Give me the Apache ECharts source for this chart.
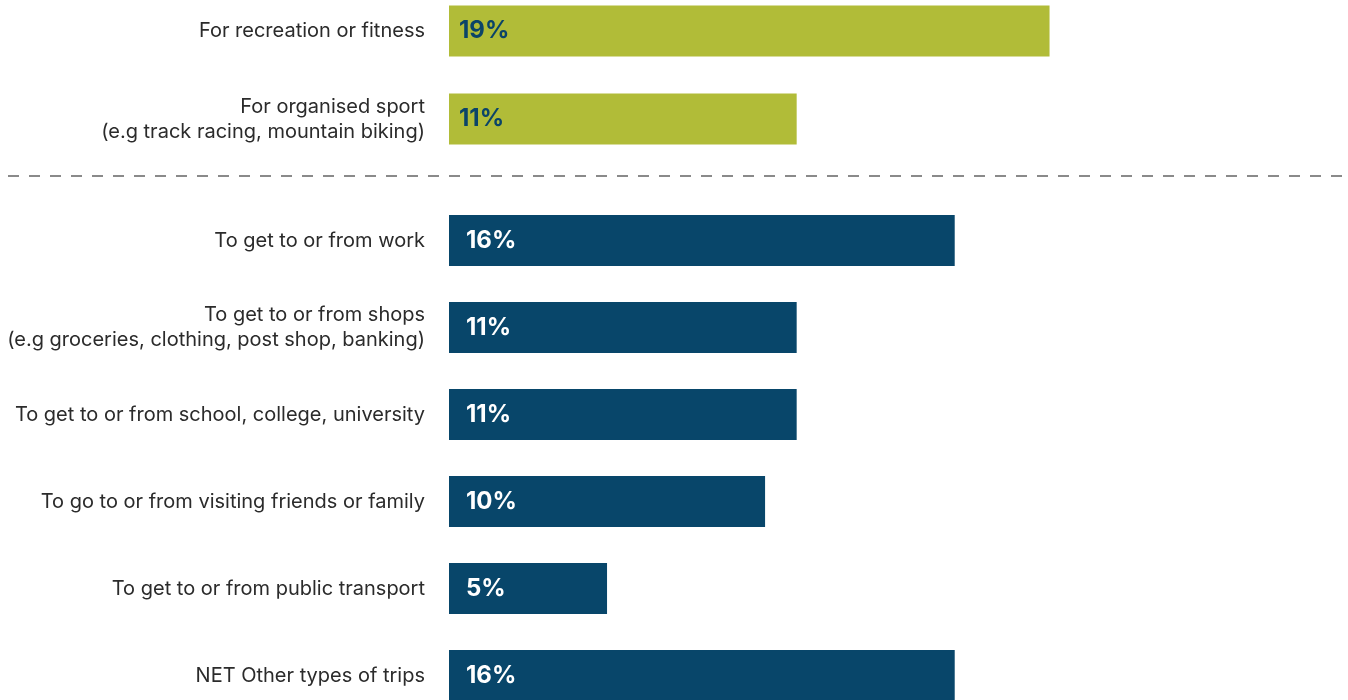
<!DOCTYPE html>
<html>
<head>
<meta charset="utf-8">
<script src="https://cdn.jsdelivr.net/npm/echarts@6/dist/echarts.min.js"></script>
<style>
  html, body { margin: 0; padding: 0; background: #ffffff; }
  #chart { width: 1348px; height: 700px; }
</style>
</head>
<body>
<div id="chart"></div>
<script>
// Reasons for riding: leisure group (top) and trip-purpose group (bottom)
const leisureCategories = [
  'For recreation or fitness',
  'For organised sport\n(e.g track racing, mountain biking)'
];
const leisureValues = [19, 11];

const tripCategories = [
  'To get to or from work',
  'To get to or from shops\n(e.g groceries, clothing, post shop, banking)',
  'To get to or from school, college, university',
  'To go to or from visiting friends or family',
  'To get to or from public transport',
  'NET Other types of trips'
];
const tripValues = [16, 11, 11, 10, 5, 16];

const GREEN = '#b1bc38';
const BLUE = '#08466a';
const FONT = 'Inter, "Liberation Sans", sans-serif';

const chart = echarts.init(document.getElementById('chart'), null, { renderer: 'canvas' });

const xMax = 28;
const gridLeft = 449;
const gridWidth = 885;

function valueAxis(gridIndex) {
  return {
    type: 'value', gridIndex, min: 0, max: xMax,
    show: false, splitLine: { show: false }
  };
}
function catAxis(gridIndex, data) {
  return {
    type: 'category', gridIndex, data, inverse: true,
    axisLine: { show: false }, axisTick: { show: false }, splitLine: { show: false },
    axisLabel: {
      margin: 24, color: '#2b2b2b', fontFamily: FONT, fontSize: 20,
      lineHeight: 25, align: 'right'
    }
  };
}
function barSeries(idx, data, color, labelColor, offsetX) {
  return {
    type: 'bar', xAxisIndex: idx, yAxisIndex: idx, data,
    barWidth: 51, itemStyle: { color },
    silent: true,
    label: {
      show: true, position: 'insideLeft', distance: offsetX,
      formatter: p => p.value + '%',
      color: labelColor, fontFamily: FONT, fontWeight: 'bold', fontSize: 24
    }
  };
}

chart.setOption({
  animation: false,
  backgroundColor: '#ffffff',
  grid: [
    { left: gridLeft, width: gridWidth, top: -13, height: 176, outerBoundsMode: 'none', containLabel: false },
    { left: gridLeft, width: gridWidth, top: 197, height: 522, outerBoundsMode: 'none', containLabel: false }
  ],
  xAxis: [valueAxis(0), valueAxis(1)],
  yAxis: [catAxis(0, leisureCategories), catAxis(1, tripCategories)],
  series: [
    barSeries(0, leisureValues, GREEN, '#0b4468', 10),
    barSeries(1, tripValues, BLUE, '#ffffff', 17)
  ],
  graphic: [{
    type: 'line', silent: true,
    shape: { x1: 8, y1: 176, x2: 1348, y2: 176 },
    style: { stroke: '#8a8a8a', lineWidth: 2, lineDash: [11, 10] }
  }]
});
</script>
</body>
</html>
